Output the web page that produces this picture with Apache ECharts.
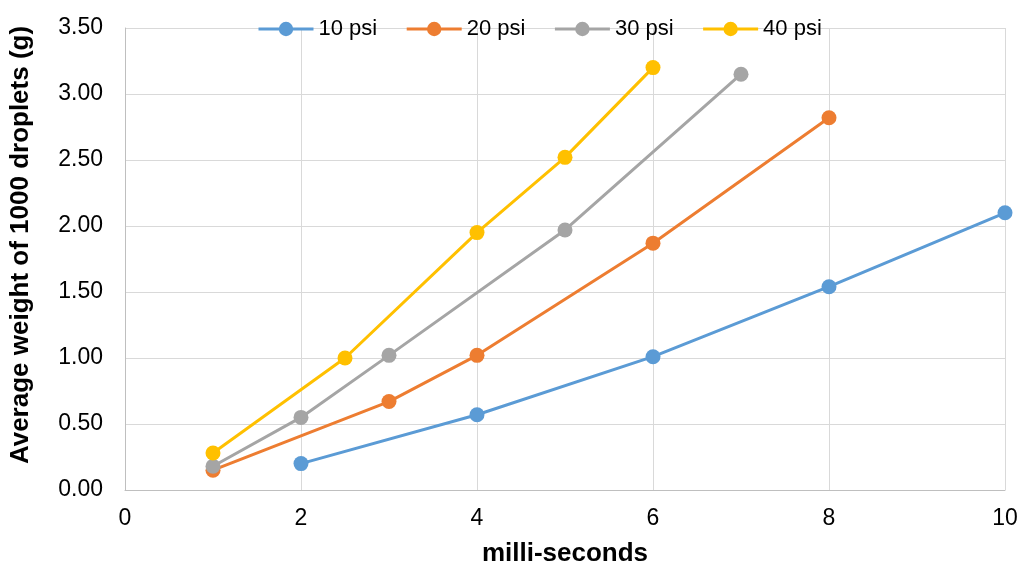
<!DOCTYPE html>
<html>
<head>
<meta charset="utf-8">
<script src="https://cdn.jsdelivr.net/npm/echarts@6/dist/echarts.min.js"></script>
<style>
  html, body { margin: 0; padding: 0; background: #fff; }
  #chart { width: 1021px; height: 568px; }
</style>
</head>
<body>
<div id="chart"></div>
<script>
// data
var seriesNames = ["10 psi", "20 psi", "30 psi", "40 psi"];
var psi10 = [[2, 0.20], [4, 0.57], [6, 1.01], [8, 1.54], [10, 2.10]];
var psi20 = [[1, 0.15], [3, 0.67], [4, 1.02], [6, 1.87], [8, 2.82]];
var psi30 = [[1, 0.18], [2, 0.55], [3, 1.02], [5, 1.97], [7, 3.15]];
var psi40 = [[1, 0.28], [2.5, 1.00], [4, 1.95], [5, 2.52], [6, 3.20]];

(function() {
  var myChart = echarts.init(document.getElementById("chart"));
  var colors = ["#5B9BD5", "#ED7D31", "#A5A5A5", "#FFC000"];
  var allData = [psi10, psi20, psi30, psi40];
  var font = "'Liberation Sans', Arial, sans-serif";

  var series = [];
  for (var i = 0; i < seriesNames.length; i++) {
    series.push({
      name: seriesNames[i],
      type: "line",
      data: allData[i],
      color: colors[i],
      symbol: "circle",
      symbolSize: 15,
      lineStyle: { width: 3 },
      z: 2 + i
    });
  }

  var option = {
    animation: false,
    textStyle: { fontFamily: font },
    legend: {
      data: seriesNames,
      top: 13,
      left: 252,
      itemWidth: 55,
      itemHeight: 18,
      itemGap: 28,
      lineStyle: { width: 3 },
      textStyle: { fontSize: 22, color: "#000", fontFamily: font }
    },
    grid: { left: 125, right: 16, top: 28, bottom: 78, outerBoundsMode: "none" },
    xAxis: {
      type: "value",
      min: 0,
      max: 10,
      interval: 2,
      name: "milli-seconds",
      nameLocation: "middle",
      nameGap: 51,
      nameTextStyle: { fontSize: 26, fontWeight: "bold", color: "#000", fontFamily: font },
      axisLine: { lineStyle: { color: "#BFBFBF", width: 1 } },
      axisTick: { show: false },
      axisLabel: { fontSize: 23, color: "#000", margin: 17, fontFamily: font },
      splitLine: { show: true, lineStyle: { color: "#D9D9D9", width: 1 } }
    },
    yAxis: {
      type: "value",
      min: 0,
      max: 3.5,
      interval: 0.5,
      name: "Average weight of 1000 droplets (g)",
      nameLocation: "middle",
      nameGap: 91,
      nameTextStyle: {
        fontSize: 26, fontWeight: "bold", color: "#000", fontFamily: font,
        padding: [0, 0, 0, 28]
      },
      axisLine: { show: true, lineStyle: { color: "#BFBFBF", width: 1 } },
      axisTick: { show: false },
      axisLabel: {
        fontSize: 23, color: "#000", margin: 22, fontFamily: font,
        formatter: function(v) { return v.toFixed(2); }
      },
      splitLine: { show: true, lineStyle: { color: "#D9D9D9", width: 1 } }
    },
    series: series
  };
  myChart.setOption(option);
})();
</script>
</body>
</html>
